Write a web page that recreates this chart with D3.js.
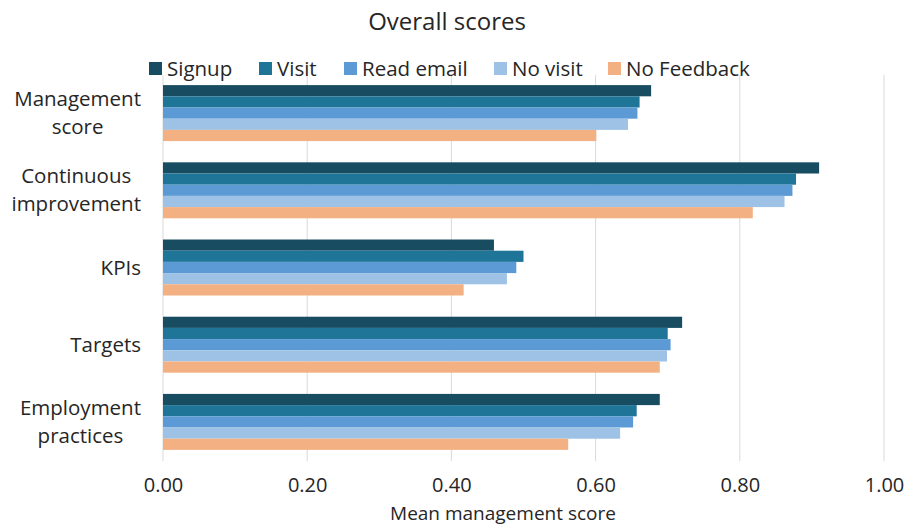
<!DOCTYPE html>
<html>
<head>
<meta charset="utf-8">
<script src="https://cdn.jsdelivr.net/npm/d3@7"></script>
<style>
  html, body { margin: 0; padding: 0; background: #fff; }
  svg { display: block; font-family: "Open Sans", sans-serif; }
</style>
</head>
<body>
<svg id="chart" width="907" height="526"></svg>
<script>
// Categories (top to bottom) and label lines
const categories = ["Management score", "Continuous improvement", "KPIs", "Targets", "Employment practices"];
const categoryLines = [["Management", "score"], ["Continuous", "improvement"], ["KPIs"], ["Targets"], ["Employment", "practices"]];

// Series names and their values, one per category
const seriesNames = ["Signup", "Visit", "Read email", "No visit", "No Feedback"];
const signup     = [0.677, 0.910, 0.459, 0.720, 0.689];
const visit      = [0.661, 0.878, 0.500, 0.700, 0.657];
const readEmail  = [0.658, 0.873, 0.490, 0.704, 0.652];
const noVisit    = [0.645, 0.862, 0.477, 0.699, 0.634];
const noFeedback = [0.601, 0.818, 0.417, 0.689, 0.562];
const seriesValues = [signup, visit, readEmail, noVisit, noFeedback];

const xTicks = [0, 0.2, 0.4, 0.6, 0.8, 1.0];
const colors = ["#174c61", "#1f7598", "#5b9ad4", "#9dc2e5", "#f3b083"];

const svg = d3.select("#chart");
const textColor = "#262626";

const x = d3.scaleLinear().domain([0, 1]).range([163, 884]);
const y = d3.scaleBand().domain(categories).range([74.5, 460.5])
  .paddingInner(0.275).paddingOuter(0.1375);
const yInner = d3.scaleBand().domain(seriesNames).range([0, y.bandwidth()]);

// Title
svg.append("text")
  .attr("x", 447).attr("y", 30)
  .attr("text-anchor", "middle")
  .attr("font-size", 24)
  .attr("fill", textColor)
  .text("Overall scores");

// Gridlines
svg.append("g")
  .selectAll("line")
  .data(xTicks)
  .join("line")
  .attr("x1", d => x(d)).attr("x2", d => x(d))
  .attr("y1", 75).attr("y2", 461)
  .attr("stroke", "#d9d9d9")
  .attr("stroke-width", 1);

// X axis (labels only)
const xAxis = svg.append("g")
  .attr("transform", "translate(0,461)")
  .call(d3.axisBottom(x).tickValues(xTicks).tickFormat(d3.format(".2f")).tickSize(0).tickPadding(17));
xAxis.select(".domain").remove();
xAxis.selectAll("text")
  .attr("font-family", "Open Sans, sans-serif")
  .attr("font-size", 20)
  .attr("fill", textColor);

// X axis title
svg.append("text")
  .attr("x", 503).attr("y", 520)
  .attr("text-anchor", "middle")
  .attr("font-size", 19)
  .attr("fill", textColor)
  .text("Mean management score");

// Bars
const groups = svg.append("g")
  .selectAll("g")
  .data(categories)
  .join("g")
  .attr("transform", d => `translate(0,${y(d)})`);

groups.selectAll("rect")
  .data((d, i) => seriesNames.map((s, j) => ({ series: s, value: seriesValues[j][i], color: colors[j] })))
  .join("rect")
  .attr("x", x(0))
  .attr("y", d => yInner(d.series))
  .attr("width", d => x(d.value) - x(0))
  .attr("height", yInner.bandwidth())
  .attr("fill", d => d.color);

// Category labels: lines centred on each other, block right-aligned to the axis
const labelRight = 141;
const lineH = 28;
categories.forEach((c, i) => {
  const lines = categoryLines[i];
  const g = svg.append("g");
  const texts = lines.map((t, k) => g.append("text")
    .attr("font-size", 20.5)
    .attr("fill", textColor)
    .attr("text-anchor", "middle")
    .attr("y", y(c) + y.bandwidth() / 2 + 7 + (k - (lines.length - 1) / 2) * lineH)
    .text(t));
  const maxW = d3.max(texts, t => t.node().getComputedTextLength());
  texts.forEach(t => t.attr("x", labelRight - maxW / 2));
});

// Legend
const legendItems = [
  { name: "Signup", x: 149 },
  { name: "Visit", x: 259 },
  { name: "Read email", x: 344 },
  { name: "No visit", x: 494 },
  { name: "No Feedback", x: 608 }
];
const legend = svg.append("g");
legendItems.forEach((it, j) => {
  legend.append("rect")
    .attr("x", it.x).attr("y", 62)
    .attr("width", 13).attr("height", 13)
    .attr("fill", colors[j]);
  legend.append("text")
    .attr("x", it.x + 18).attr("y", 75.5)
    .attr("font-size", 20.5)
    .attr("fill", textColor)
    .text(seriesNames[j]);
});
</script>
</body>
</html>
